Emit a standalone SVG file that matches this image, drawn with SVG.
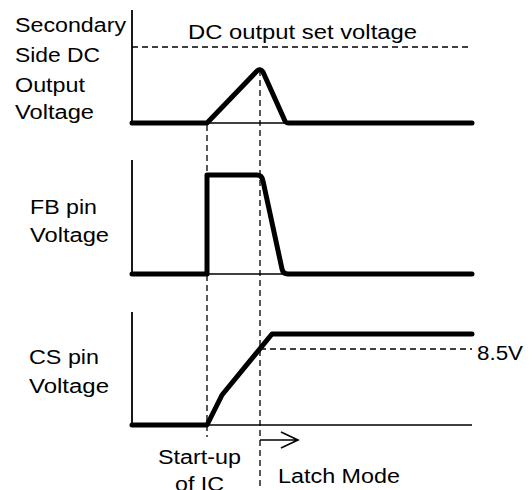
<svg xmlns="http://www.w3.org/2000/svg" width="532" height="490" viewBox="0 0 532 490">
<style>
text{font-family:"Liberation Sans",Arial,sans-serif;font-size:20px;fill:#000}
.ax{stroke:#000;stroke-width:1.8;fill:none}
.thin{stroke:#000;stroke-width:1.6;fill:none}
.thick{stroke:#000;stroke-width:5;fill:none;stroke-linecap:round;stroke-linejoin:round}
.dash{stroke:#000;stroke-width:1.3;fill:none;stroke-dasharray:6 4}
</style>
<rect width="532" height="490" fill="#fff"/>
<g id="panel-secondary">
<line class="ax" x1="132" y1="10" x2="132" y2="123"/>
<line class="thin" x1="132" y1="123" x2="472" y2="123"/>
<line class="dash" x1="132" y1="47" x2="472" y2="47"/>
<path class="thick" d="M132 123 H207 L257 71 Q260 68 263 72 L285 121 Q286 123 289 123 H472"/>
<text x="15" y="32" textLength="111" lengthAdjust="spacingAndGlyphs">Secondary</text>
<text x="15" y="62" textLength="85" lengthAdjust="spacingAndGlyphs">Side DC</text>
<text x="15" y="91.5" textLength="70" lengthAdjust="spacingAndGlyphs">Output</text>
<text x="15" y="118.5" textLength="79" lengthAdjust="spacingAndGlyphs">Voltage</text>
<text x="188" y="38.5" textLength="229" lengthAdjust="spacingAndGlyphs">DC output set voltage</text>
</g>
<g id="panel-fb">
<line class="ax" x1="132" y1="160" x2="132" y2="274"/>
<line class="thin" x1="132" y1="274" x2="472" y2="274"/>
<path class="thick" d="M132 274 H207 V175 H257 Q262 175 263 181 L282 269 Q283 274 288 274 H472"/>
<text x="30" y="214" textLength="67" lengthAdjust="spacingAndGlyphs">FB pin</text>
<text x="30" y="242" textLength="79" lengthAdjust="spacingAndGlyphs">Voltage</text>
</g>
<g id="panel-cs">
<line class="ax" x1="132" y1="312" x2="132" y2="425"/>
<line class="thin" x1="132" y1="425" x2="472" y2="425"/>
<line class="dash" x1="260" y1="349" x2="472" y2="349"/>
<path class="thick" d="M132 425 H207 L222 395 L272 334 H472"/>
<text x="29" y="364" textLength="70" lengthAdjust="spacingAndGlyphs">CS pin</text>
<text x="29" y="393" textLength="80" lengthAdjust="spacingAndGlyphs">Voltage</text>
<text x="477" y="360" textLength="46" lengthAdjust="spacingAndGlyphs">8.5V</text>
</g>
<g id="markers">
<line class="dash" x1="207" y1="125" x2="207" y2="437"/>
<line class="dash" x1="260" y1="70" x2="260" y2="490"/>
<path class="thin" d="M260 440 H298 M281 432 L298 440 L281 448"/>
<text x="158" y="464" textLength="83" lengthAdjust="spacingAndGlyphs">Start-up</text>
<text x="175" y="491" textLength="49" lengthAdjust="spacingAndGlyphs">of IC</text>
<text x="278" y="483" textLength="122" lengthAdjust="spacingAndGlyphs">Latch Mode</text>
</g>
</svg>
